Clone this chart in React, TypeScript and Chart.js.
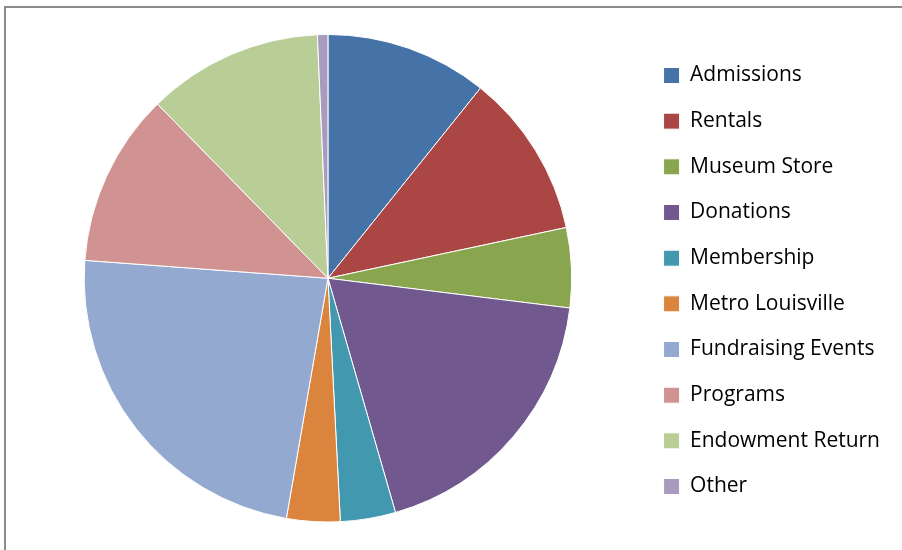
import { useEffect, useRef } from "react";
import { Chart, registerables } from "chart.js";

Chart.register(...registerables);

const categories = [
  "Admissions",
  "Rentals",
  "Museum Store",
  "Donations",
  "Membership",
  "Metro Louisville",
  "Fundraising Events",
  "Programs",
  "Endowment Return",
  "Other",
];

const shares = [10.76, 10.9, 5.29, 18.58, 3.66, 3.54, 23.44, 11.5, 11.64, 0.69];

const sliceColors = [
  "#4572A7",
  "#AA4643",
  "#89A54E",
  "#71588F",
  "#4198AF",
  "#DB843D",
  "#93A9CF",
  "#D19392",
  "#B9CD96",
  "#A99BBD",
];

export default function App() {
  const ref = useRef<HTMLCanvasElement>(null);

  useEffect(() => {
    if (!ref.current) return;
    const chart = new Chart(ref.current, {
      type: "pie",
      data: {
        labels: categories,
        datasets: [
          {
            data: shares,
            backgroundColor: sliceColors,
            borderColor: "#ffffff",
            borderWidth: 1,
          },
        ],
      },
      options: {
        responsive: false,
        animation: false,
        layout: { padding: { top: 34, bottom: 27.5, left: 17, right: 12 } },
        plugins: {
          tooltip: { enabled: false },
          legend: {
            position: "right",
            title: {
              display: true,
              text: " ",
              font: { size: 5.5, lineHeight: 1 },
              padding: 0,
            },
            labels: {
              boxWidth: 16,
              boxHeight: 16,
              padding: 24.67,
              color: "#000000",
              font: { family: "'Open Sans'", size: 21 },
            },
          },
        },
      },
    });
    return () => chart.destroy();
  }, []);

  return (
    <div
      style={{
        position: "fixed",
        left: 0,
        top: 0,
        width: 902,
        height: 550,
        overflow: "hidden",
        background: "#ffffff",
      }}
    >
      <div
        style={{
          position: "absolute",
          left: 4,
          top: 6,
          width: 1000,
          height: 700,
          border: "2px solid #8c8c8c",
        }}
      />
      <canvas
        ref={ref}
        width={902}
        height={550}
        style={{ position: "absolute", left: 0, top: 0, width: 902, height: 550 }}
      />
    </div>
  );
}
